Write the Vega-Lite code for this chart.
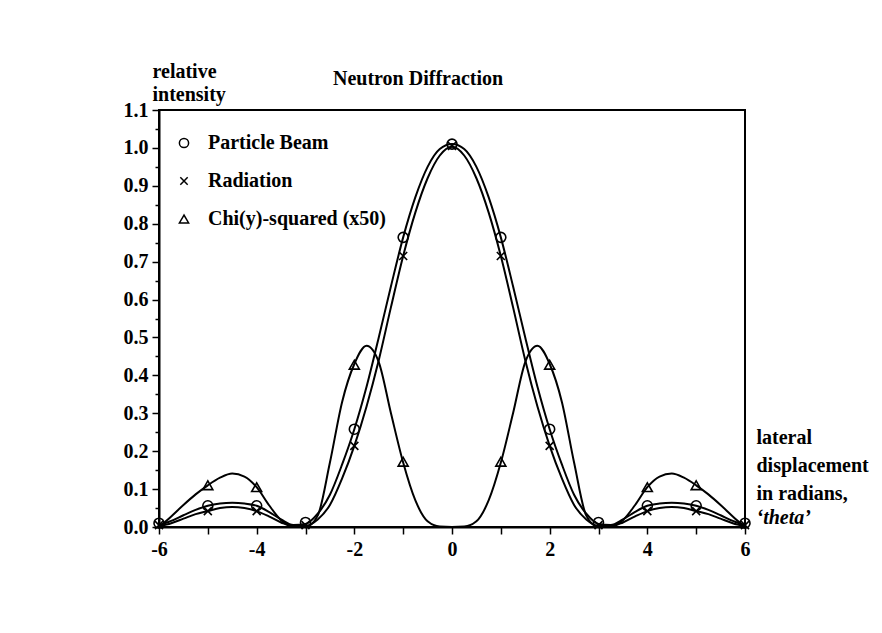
{
  "$schema": "https://vega.github.io/schema/vega-lite/v6.json",
  "width": 586,
  "height": 417,
  "autosize": "none",
  "padding": {"left": 159, "top": 110, "right": 137, "bottom": 106},
  "background": "white",
  "config": {
    "font": "Liberation Serif",
    "view": {"stroke": "black", "strokeWidth": 2},
    "axis": {
      "grid": false,
      "labelFont": "Liberation Serif",
      "labelFontWeight": "bold",
      "labelFontSize": 20,
      "labelColor": "black",
      "labelOverlap": false,
      "titleFont": "Liberation Serif",
      "titleFontWeight": "bold",
      "titleFontSize": 20,
      "titleColor": "black",
      "domainColor": "black",
      "domainWidth": 2,
      "tickColor": "black",
      "tickWidth": 1.5
    }
  },
  "title": {
    "text": "Neutron Diffraction",
    "anchor": "start",
    "dx": 210,
    "dy": 32,
    "font": "Liberation Serif",
    "fontWeight": "bold",
    "fontSize": 20,
    "color": "black"
  },
  "datasets": {
    "curves": [
      {"theta": -6, "pb": 0.005, "rad": 0.002, "chi": 0},
      {"theta": -5.75, "pb": 0.016, "rad": 0.01, "chi": 0.028},
      {"theta": -5.5, "pb": 0.031, "rad": 0.022, "chi": 0.058},
      {"theta": -5.25, "pb": 0.045, "rad": 0.034, "chi": 0.086},
      {"theta": -5, "pb": 0.056, "rad": 0.042, "chi": 0.11},
      {"theta": -4.75, "pb": 0.062, "rad": 0.05, "chi": 0.13},
      {"theta": -4.5, "pb": 0.064, "rad": 0.053, "chi": 0.141},
      {"theta": -4.25, "pb": 0.062, "rad": 0.05, "chi": 0.133},
      {"theta": -4, "pb": 0.056, "rad": 0.042, "chi": 0.105},
      {"theta": -3.75, "pb": 0.04, "rad": 0.028, "chi": 0.058},
      {"theta": -3.5, "pb": 0.02, "rad": 0.012, "chi": 0.018},
      {"theta": -3.25, "pb": 0.005, "rad": 0.002, "chi": 0.002},
      {"theta": -3, "pb": 0.008, "rad": 0.003, "chi": 0},
      {"theta": -2.75, "pb": 0.035, "rad": 0.02, "chi": 0.03},
      {"theta": -2.5, "pb": 0.085, "rad": 0.058, "chi": 0.17},
      {"theta": -2.25, "pb": 0.165, "rad": 0.128, "chi": 0.33},
      {"theta": -2, "pb": 0.258, "rad": 0.214, "chi": 0.43},
      {"theta": -1.75, "pb": 0.37, "rad": 0.318, "chi": 0.478},
      {"theta": -1.5, "pb": 0.5, "rad": 0.44, "chi": 0.435},
      {"theta": -1.25, "pb": 0.635, "rad": 0.58, "chi": 0.3},
      {"theta": -1, "pb": 0.764, "rad": 0.715, "chi": 0.17},
      {"theta": -0.75, "pb": 0.87, "rad": 0.83, "chi": 0.07},
      {"theta": -0.5, "pb": 0.95, "rad": 0.92, "chi": 0.015},
      {"theta": -0.25, "pb": 0.997, "rad": 0.98, "chi": 0.001},
      {"theta": 0, "pb": 1.01, "rad": 1.003, "chi": 0},
      {"theta": 0.25, "pb": 0.997, "rad": 0.98, "chi": 0.001},
      {"theta": 0.5, "pb": 0.95, "rad": 0.92, "chi": 0.015},
      {"theta": 0.75, "pb": 0.87, "rad": 0.83, "chi": 0.07},
      {"theta": 1, "pb": 0.764, "rad": 0.715, "chi": 0.17},
      {"theta": 1.25, "pb": 0.635, "rad": 0.58, "chi": 0.3},
      {"theta": 1.5, "pb": 0.5, "rad": 0.44, "chi": 0.435},
      {"theta": 1.75, "pb": 0.37, "rad": 0.318, "chi": 0.478},
      {"theta": 2, "pb": 0.258, "rad": 0.214, "chi": 0.43},
      {"theta": 2.25, "pb": 0.165, "rad": 0.128, "chi": 0.33},
      {"theta": 2.5, "pb": 0.085, "rad": 0.058, "chi": 0.17},
      {"theta": 2.75, "pb": 0.035, "rad": 0.02, "chi": 0.03},
      {"theta": 3, "pb": 0.008, "rad": 0.003, "chi": 0},
      {"theta": 3.25, "pb": 0.005, "rad": 0.002, "chi": 0.002},
      {"theta": 3.5, "pb": 0.02, "rad": 0.012, "chi": 0.018},
      {"theta": 3.75, "pb": 0.04, "rad": 0.028, "chi": 0.058},
      {"theta": 4, "pb": 0.056, "rad": 0.042, "chi": 0.105},
      {"theta": 4.25, "pb": 0.062, "rad": 0.05, "chi": 0.133},
      {"theta": 4.5, "pb": 0.064, "rad": 0.053, "chi": 0.141},
      {"theta": 4.75, "pb": 0.062, "rad": 0.05, "chi": 0.13},
      {"theta": 5, "pb": 0.056, "rad": 0.042, "chi": 0.11},
      {"theta": 5.25, "pb": 0.045, "rad": 0.034, "chi": 0.086},
      {"theta": 5.5, "pb": 0.031, "rad": 0.022, "chi": 0.058},
      {"theta": 5.75, "pb": 0.016, "rad": 0.01, "chi": 0.028},
      {"theta": 6, "pb": 0.005, "rad": 0.002, "chi": 0}
    ],
    "markers": [
      {"theta": -6, "series": "Particle Beam", "value": 0.01},
      {"theta": -5, "series": "Particle Beam", "value": 0.056},
      {"theta": -4, "series": "Particle Beam", "value": 0.056},
      {"theta": -3, "series": "Particle Beam", "value": 0.012},
      {"theta": -2, "series": "Particle Beam", "value": 0.258},
      {"theta": -1, "series": "Particle Beam", "value": 0.764},
      {"theta": 0, "series": "Particle Beam", "value": 1.01},
      {"theta": 1, "series": "Particle Beam", "value": 0.764},
      {"theta": 2, "series": "Particle Beam", "value": 0.258},
      {"theta": 3, "series": "Particle Beam", "value": 0.012},
      {"theta": 4, "series": "Particle Beam", "value": 0.056},
      {"theta": 5, "series": "Particle Beam", "value": 0.056},
      {"theta": 6, "series": "Particle Beam", "value": 0.01},
      {"theta": -6, "series": "Radiation", "value": 0.005},
      {"theta": -5, "series": "Radiation", "value": 0.042},
      {"theta": -4, "series": "Radiation", "value": 0.042},
      {"theta": -3, "series": "Radiation", "value": 0.005},
      {"theta": -2, "series": "Radiation", "value": 0.214},
      {"theta": -1, "series": "Radiation", "value": 0.715},
      {"theta": 0, "series": "Radiation", "value": 1.005},
      {"theta": 1, "series": "Radiation", "value": 0.715},
      {"theta": 2, "series": "Radiation", "value": 0.214},
      {"theta": 3, "series": "Radiation", "value": 0.005},
      {"theta": 4, "series": "Radiation", "value": 0.042},
      {"theta": 5, "series": "Radiation", "value": 0.042},
      {"theta": 6, "series": "Radiation", "value": 0.005},
      {"theta": -5, "series": "Chi(y)-squared (x50)", "value": 0.11},
      {"theta": -4, "series": "Chi(y)-squared (x50)", "value": 0.105},
      {"theta": -2, "series": "Chi(y)-squared (x50)", "value": 0.428},
      {"theta": -1, "series": "Chi(y)-squared (x50)", "value": 0.172},
      {"theta": 1, "series": "Chi(y)-squared (x50)", "value": 0.172},
      {"theta": 2, "series": "Chi(y)-squared (x50)", "value": 0.428},
      {"theta": 4, "series": "Chi(y)-squared (x50)", "value": 0.105},
      {"theta": 5, "series": "Chi(y)-squared (x50)", "value": 0.11}
    ]
  },
  "resolve": {"axis": {"x": "independent"}},
  "encoding": {
    "y": {
      "field": "value",
      "type": "quantitative",
      "scale": {"domain": [0, 1.1], "nice": false},
      "axis": {
        "values": [0, 0.05, 0.1, 0.15, 0.2, 0.25, 0.3, 0.35, 0.4, 0.45, 0.5, 0.55, 0.6, 0.65, 0.7, 0.75, 0.8, 0.85, 0.9, 0.95, 1.0, 1.05, 1.1],
        "labelExpr": "round(datum.value * 20) % 2 === 0 ? format(datum.value, '.1f') : ''",
        "tickSize": {"condition": {"test": "round(datum.value * 20) % 2 === 0", "value": 7}, "value": 4},
        "labelPadding": 4,
        "labelFlush": false,
        "labelOverlap": false,
        "title": ["relative", "intensity"],
        "titleAngle": 0,
        "titleAlign": "left",
        "titleBaseline": "alphabetic",
        "titleX": -7,
        "titleY": -33,
        "titleLineHeight": 23
      }
    }
  },
  "layer": [
    {
      "data": {"name": "curves"},
      "transform": [{"fold": ["pb", "rad", "chi"], "as": ["series", "value"]}],
      "mark": {"type": "line", "interpolate": "monotone", "color": "black", "strokeWidth": 2, "clip": true},
      "encoding": {
        "x": {
          "field": "theta",
          "type": "quantitative",
          "scale": {"domain": [-6, 6], "nice": false, "zero": false},
          "axis": {
            "orient": "bottom",
            "values": [-6, -5, -4, -3, -2, -1, 0, 1, 2, 3, 4, 5, 6],
            "labelExpr": "datum.value % 2 === 0 ? '' + datum.value : ''",
            "tickSize": 7,
            "labelPadding": 5,
            "labelFlush": false,
            "title": ["lateral", "displacement", "in radians,"],
            "titleAngle": 0,
            "titleAlign": "left",
            "titleBaseline": "alphabetic",
            "titleX": 597,
            "titleY": -84,
            "titleLineHeight": 28
          }
        },
        "detail": {"field": "series"}
      }
    },
    {
      "data": {"name": "markers"},
      "mark": {"type": "point", "filled": false, "color": "black", "strokeWidth": 1.6, "size": 100, "opacity": 1, "clip": false},
      "encoding": {
        "x": {"field": "theta", "type": "quantitative", "axis": null},
        "shape": {
          "field": "series",
          "type": "nominal",
          "scale": {
            "domain": ["Particle Beam", "Radiation", "Chi(y)-squared (x50)"],
            "range": ["circle", "M-0.8,-0.8L0.8,0.8M0.8,-0.8L-0.8,0.8", "triangle-up"]
          },
          "legend": {
            "orient": "none",
            "legendX": 15,
            "legendY": 23,
            "title": null,
            "padding": 0,
            "labelFont": "Liberation Serif",
            "labelFontSize": 20,
            "labelFontWeight": "bold",
            "labelColor": "black",
            "labelLimit": 0,
            "symbolStrokeColor": "black",
            "symbolFillColor": "transparent",
            "symbolStrokeWidth": 1.5,
            "symbolSize": 85,
            "symbolOpacity": 1,
            "labelOffset": 14,
            "rowPadding": 18
          }
        }
      }
    },
    {
      "data": {"name": "markers"},
      "mark": {"type": "point", "opacity": 0},
      "encoding": {
        "x": {
          "field": "theta",
          "type": "quantitative",
          "axis": {
            "orient": "bottom",
            "domain": false,
            "ticks": false,
            "labels": false,
            "title": "‘theta’",
            "titleFontStyle": "italic",
            "titleAngle": 0,
            "titleAlign": "left",
            "titleBaseline": "alphabetic",
            "titleX": 597,
            "titleY": -4
          }
        }
      }
    }
  ]
}
